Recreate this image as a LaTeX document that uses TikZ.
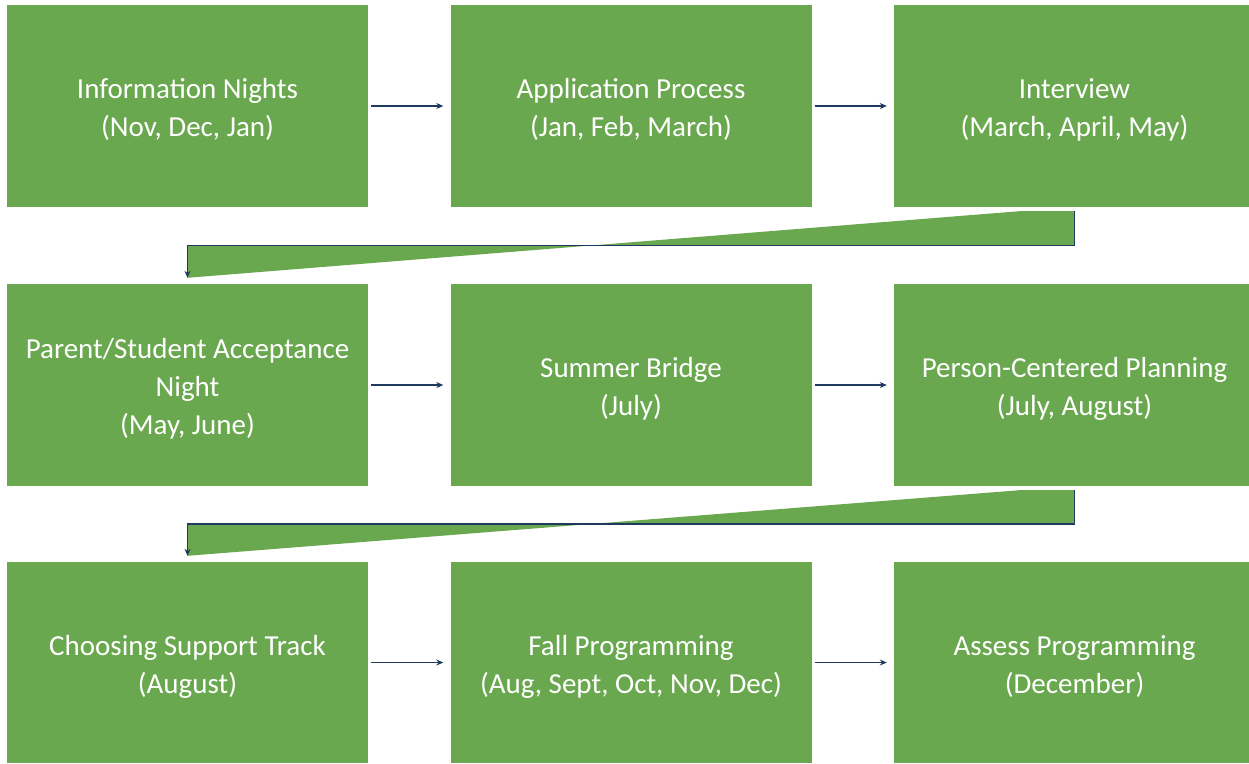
\documentclass[tikz,border=0pt]{standalone}
\usepackage{fontspec}
\setmainfont{Carlito}
\usetikzlibrary{arrows.meta,calc}
\definecolor{boxgreen}{HTML}{6AA84F}
\definecolor{navy}{HTML}{1F3A5F}
\newcommand{\steptext}[1]{\raisebox{-4pt}[\height][\depth]{\begin{tabular}{@{}c@{}}#1\end{tabular}}}
\begin{document}
\begin{tikzpicture}[x=1pt,y=-1pt,
  stepbox/.style={fill=boxgreen,draw=none,minimum width=361pt,minimum height=202pt,inner sep=0pt,
    text=white,font=\fontsize{29}{38}\selectfont},
  flow/.style={draw=navy,line width=1.3pt,-{Stealth[length=7pt,width=6pt]}},
  wedge/.style={fill=boxgreen,draw=none}]
\useasboundingbox (0,0) rectangle (1249,763);
% row 1
\node[stepbox] (a1) at (187.5,106) {\steptext{Information Nights\\(Nov, Dec, Jan)}};
\node[stepbox] (a2) at (631,106) {\steptext{Application Process\\(Jan, Feb, March)}};
\node[stepbox] (a3) at (1074.5,106) {\steptext{Interview\\(March, April, May)}};
% row 2
\node[stepbox] (b1) at (187.5,385) {\steptext{Parent/Student Acceptance\\Night\\(May, June)}};
\node[stepbox] (b2) at (631,385) {\steptext{Summer Bridge\\(July)}};
\node[stepbox] (b3) at (1074.5,385) {\steptext{Person-Centered Planning\\(July, August)}};
% row 3
\node[stepbox,minimum height=201pt] (c1) at (187.5,662.5) {\steptext{Choosing Support Track\\(August)}};
\node[stepbox,minimum height=201pt] (c2) at (631,662.5) {\steptext{Fall Programming\\(Aug, Sept, Oct, Nov, Dec)}};
\node[stepbox,minimum height=201pt] (c3) at (1074.5,662.5) {\steptext{Assess Programming\\(December)}};
% horizontal arrows
\foreach \p/\q in {a1/a2,a2/a3,b1/b2,b2/b3,c1/c2,c2/c3}{
  \draw[flow] ([xshift=3pt]\p.east) -- ([xshift=-7pt]\q.west);
}
% row-change connectors
\foreach \p/\q in {a3/b1,b3/c1}{
  \coordinate (s) at ([yshift=-4pt]\p.south);
  \coordinate (e) at ([yshift=6pt]\q.north);
  \coordinate (m) at ($(\p.south)!0.5!(\q.north)$);
  \fill[wedge] ([xshift=-55pt]s) -- (s) -- (s |- m) -- (m -| e) -- (e) -- cycle;
  \draw[flow] (s) -- (s |- m) -- (m -| e) -- (e);
}
\end{tikzpicture}
\end{document}
